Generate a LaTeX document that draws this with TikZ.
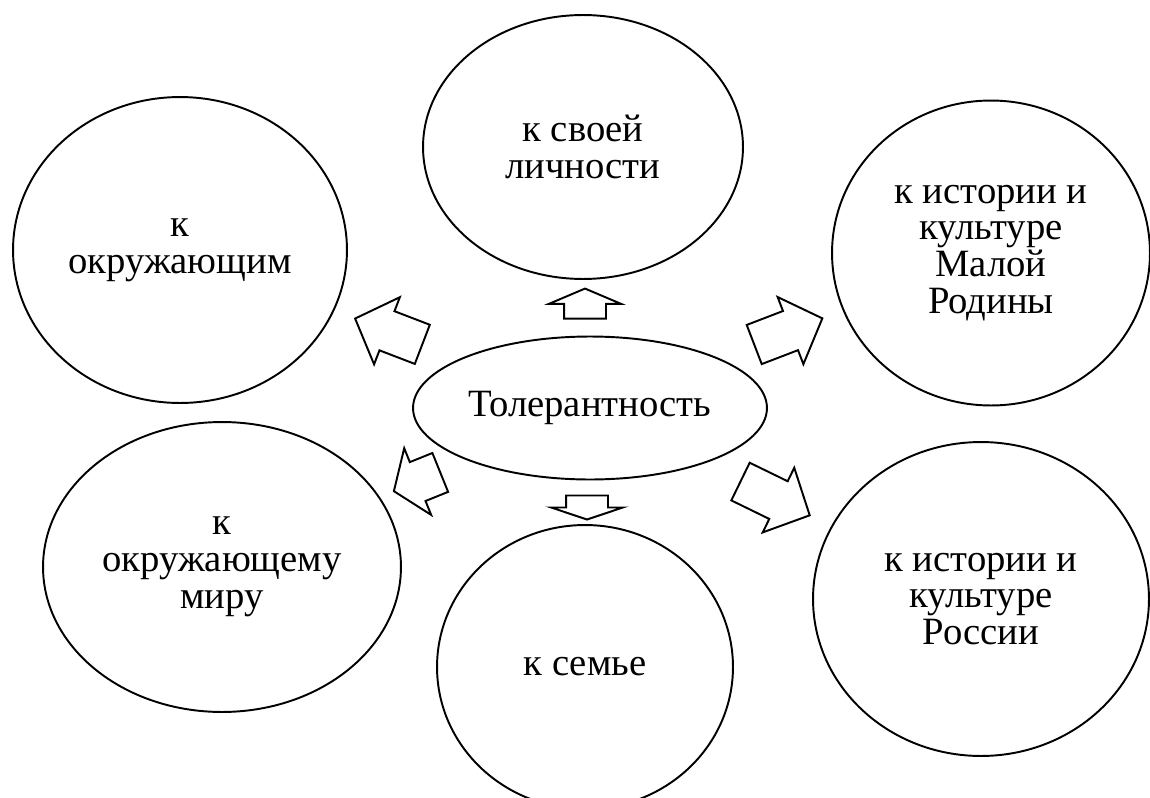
\documentclass[tikz,border=0pt]{standalone}
\usepackage{fontspec}
\setmainfont{LiberationSerif-Regular.ttf}
\newfontfamily\textru{LiberationSerif-Regular.ttf}
\usetikzlibrary{shapes.geometric,shapes.arrows}

\begin{document}
\begin{tikzpicture}[x=0.02cm, y=-0.02cm,
                every node/.append style = {font=\textru\fontsize{22}{21}\selectfont, align=center},
                oval/.style = {ellipse, draw, line width=1.1pt, inner sep=0pt},
                blockarrow/.style = {single arrow, draw, line width=1.1pt, inner sep=0pt,
                    inner ysep=0.4cm, single arrow head extend=0.3cm}]
            \useasboundingbox (0,0) rectangle (1150,798);
            \node[oval, minimum width=7.08cm, minimum height=2.86cm] (tol) at (590,408) {Толерантность};
            \node[oval, minimum width=6.4cm, minimum height=5.28cm] (self) at (583,147) {к своей\\личности};
            \node[oval, minimum width=6.68cm, minimum height=6.12cm] (others) at (180,250) {к\\окружающим};
            \node[oval, minimum width=6.36cm, minimum height=6.1cm] (home) at (991,253) {к истории и\\культуре\\Малой\\Родины};
            \node[oval, minimum width=7.16cm, minimum height=5.8cm] (world) at (222,567) {к\\окружающему\\миру};
            \node[oval, minimum width=5.92cm, minimum height=5.68cm] (family) at (585,667) {к семье};
            \node[oval, minimum width=6.72cm, minimum height=6.28cm] (russia) at (981,599) {к истории и\\культуре\\России};
            \node[blockarrow, rotate=159, minimum height=1.44cm, single arrow tip angle=93] (aothers) at (398,335) {};
            \node[blockarrow, rotate=90, minimum height=0.6cm, single arrow tip angle=134] (aself) at (585,308) {};
            \node[blockarrow, rotate=21, minimum height=1.46cm, single arrow tip angle=93] (ahome) at (779,335) {};
            \node[blockarrow, rotate=202, minimum height=1.0cm, single arrow tip angle=109] (aworld) at (424,479) {};
            \node[blockarrow, rotate=-90, minimum height=0.48cm, single arrow tip angle=143] (afamily) at (587,504) {};
            \node[blockarrow, rotate=-26, minimum height=1.54cm, single arrow tip angle=92] (arussia) at (766,494) {};
\end{tikzpicture}
\end{document}
